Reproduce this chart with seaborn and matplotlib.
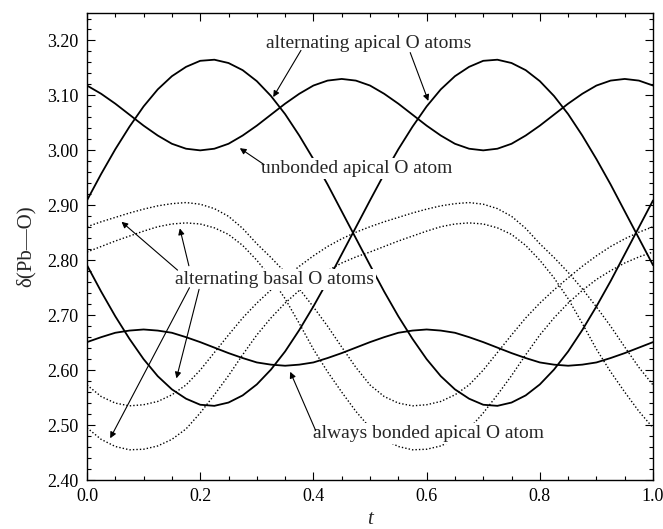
import numpy as np
import pandas as pd
import matplotlib
matplotlib.use("Agg")
import matplotlib.pyplot as plt
import seaborn as sns
from matplotlib.ticker import MultipleLocator, FormatStrFormatter

# ---------------- data ----------------
t = [0.000, 0.025, 0.050, 0.075, 0.100, 0.125, 0.150, 0.175, 0.200, 0.225,
     0.250, 0.275, 0.300, 0.325, 0.350, 0.375, 0.400, 0.425, 0.450, 0.475,
     0.500, 0.525, 0.550, 0.575, 0.600, 0.625, 0.650, 0.675, 0.700, 0.725,
     0.750, 0.775, 0.800, 0.825, 0.850, 0.875, 0.900, 0.925, 0.950, 0.975,
     1.000]

# alternating apical O atoms (solid)
apical_alt_1 = [2.909, 2.957, 3.002, 3.043, 3.080, 3.111, 3.135, 3.152, 3.163, 3.165,
                3.159, 3.146, 3.126, 3.099, 3.066, 3.027, 2.984, 2.938, 2.889, 2.840,
                2.791, 2.743, 2.698, 2.657, 2.620, 2.589, 2.565, 2.548, 2.537, 2.535,
                2.541, 2.554, 2.574, 2.601, 2.634, 2.673, 2.716, 2.762, 2.811, 2.860,
                2.909]
apical_alt_2 = [2.791, 2.743, 2.698, 2.657, 2.620, 2.589, 2.565, 2.548, 2.537, 2.535,
                2.541, 2.554, 2.574, 2.601, 2.634, 2.673, 2.716, 2.762, 2.811, 2.860,
                2.909, 2.957, 3.002, 3.043, 3.080, 3.111, 3.135, 3.152, 3.163, 3.165,
                3.159, 3.146, 3.126, 3.099, 3.066, 3.027, 2.984, 2.938, 2.889, 2.840,
                2.791]
# unbonded apical O atom (solid)
apical_unbonded = [3.118, 3.103, 3.085, 3.065, 3.045, 3.027, 3.012, 3.003, 3.000, 3.003,
                   3.012, 3.027, 3.045, 3.065, 3.085, 3.103, 3.118, 3.127, 3.130, 3.127,
                   3.118, 3.103, 3.085, 3.065, 3.045, 3.027, 3.012, 3.003, 3.000, 3.003,
                   3.012, 3.027, 3.045, 3.065, 3.085, 3.103, 3.118, 3.127, 3.130, 3.127,
                   3.118]
# always bonded apical O atom (solid)
apical_bonded = [2.651, 2.660, 2.668, 2.672, 2.674, 2.672, 2.668, 2.660, 2.651, 2.641,
                 2.631, 2.622, 2.614, 2.610, 2.608, 2.610, 2.614, 2.622, 2.631, 2.641,
                 2.651, 2.660, 2.668, 2.672, 2.674, 2.672, 2.668, 2.660, 2.651, 2.641,
                 2.631, 2.622, 2.614, 2.610, 2.608, 2.610, 2.614, 2.622, 2.631, 2.641,
                 2.651]
# alternating basal O atoms (dotted)
basal_1 = [2.861, 2.870, 2.878, 2.886, 2.893, 2.899, 2.903, 2.905, 2.902, 2.894,
           2.880, 2.858, 2.830, 2.805, 2.778, 2.748, 2.715, 2.680, 2.642, 2.605,
           2.573, 2.552, 2.540, 2.535, 2.537, 2.543, 2.555, 2.573, 2.600, 2.632,
           2.664, 2.695, 2.722, 2.746, 2.768, 2.789, 2.808, 2.825, 2.839, 2.851,
           2.861]
basal_2 = [2.815, 2.825, 2.835, 2.844, 2.853, 2.861, 2.866, 2.868, 2.866, 2.859,
           2.847, 2.827, 2.800, 2.768, 2.730, 2.685, 2.638, 2.597, 2.560, 2.525,
           2.495, 2.474, 2.461, 2.455, 2.456, 2.462, 2.474, 2.493, 2.522, 2.555,
           2.590, 2.628, 2.664, 2.695, 2.722, 2.745, 2.765, 2.781, 2.795, 2.806,
           2.815]
basal_3 = [2.573, 2.552, 2.540, 2.535, 2.537, 2.543, 2.555, 2.573, 2.600, 2.632,
           2.664, 2.695, 2.722, 2.746, 2.768, 2.789, 2.808, 2.825, 2.839, 2.851,
           2.861, 2.870, 2.878, 2.886, 2.893, 2.899, 2.903, 2.905, 2.902, 2.894,
           2.880, 2.858, 2.830, 2.805, 2.778, 2.748, 2.715, 2.680, 2.642, 2.605,
           2.573]
basal_4 = [2.495, 2.474, 2.461, 2.455, 2.456, 2.462, 2.474, 2.493, 2.522, 2.555,
           2.590, 2.628, 2.664, 2.695, 2.722, 2.745, 2.765, 2.781, 2.795, 2.806,
           2.815, 2.825, 2.835, 2.844, 2.853, 2.861, 2.866, 2.868, 2.866, 2.859,
           2.847, 2.827, 2.800, 2.768, 2.730, 2.685, 2.638, 2.597, 2.560, 2.525,
           2.495]

solid_series = [apical_alt_1, apical_alt_2, apical_unbonded, apical_bonded]
dotted_series = [basal_1, basal_2, basal_3, basal_4]

y_ticks = [2.40, 2.50, 2.60, 2.70, 2.80, 2.90, 3.00, 3.10, 3.20]
x_ticks = [0.0, 0.2, 0.4, 0.6, 0.8, 1.0]

# ---------------- styling ----------------
sns.set_style("ticks")
plt.rcParams["font.family"] = ["Liberation Serif", "DejaVu Serif"]

fig = plt.figure(figsize=(6.63, 5.29), dpi=100)
ax = fig.add_axes([0.1312, 0.0926, 0.8538, 0.8828])

for s in dotted_series:
    sns.lineplot(x=t, y=s, ax=ax, color="black", lw=1.0,
                 linestyle=(0, (1, 1.5)), sort=False, estimator=None)
for s in solid_series:
    sns.lineplot(x=t, y=s, ax=ax, color="black", lw=1.3,
                 sort=False, estimator=None)

ax.set_xlim(0.0, 1.0)
ax.set_ylim(2.40, 3.25)
ax.set_xticks(x_ticks)
ax.set_yticks(y_ticks)
ax.xaxis.set_minor_locator(MultipleLocator(0.05))
ax.yaxis.set_minor_locator(MultipleLocator(0.02))
ax.xaxis.set_major_formatter(FormatStrFormatter("%.1f"))
ax.yaxis.set_major_formatter(FormatStrFormatter("%.2f"))
ax.tick_params(which="both", direction="in", top=True, right=True,
               colors="black", labelsize=13, width=0.8)
ax.tick_params(which="major", length=6, pad=6)
ax.tick_params(which="minor", length=3)
for sp in ax.spines.values():
    sp.set_linewidth(1.0)
    sp.set_color("black")

ax.set_xlabel("t", fontsize=15, style="italic", labelpad=3)
ax.set_ylabel("δ(Pb—O)", fontsize=15, labelpad=8)

box = dict(boxstyle="square,pad=0.1", fc="white", ec="none")
arrow = dict(arrowstyle="-|>", lw=0.8, color="black", mutation_scale=9,
             shrinkA=0, shrinkB=0)
fs = 14

ax.text(0.498, 3.195, "alternating apical O atoms", ha="center", va="center",
        fontsize=fs, bbox=box, zorder=5)
ax.annotate("", xy=(0.329, 3.097), xytext=(0.378, 3.182),
            arrowprops=arrow, zorder=6)
ax.annotate("", xy=(0.603, 3.090), xytext=(0.571, 3.178),
            arrowprops=arrow, zorder=6)

ax.text(0.477, 2.967, "unbonded apical O atom", ha="center", va="center",
        fontsize=fs, bbox=box, zorder=5)
ax.annotate("", xy=(0.270, 3.004), xytext=(0.313, 2.974),
            arrowprops=arrow, zorder=6)

ax.text(0.331, 2.765, "alternating basal O atoms", ha="center", va="center",
        fontsize=fs, bbox=box, zorder=5)
ax.annotate("", xy=(0.061, 2.870), xytext=(0.160, 2.782),
            arrowprops=arrow, zorder=6)
ax.annotate("", xy=(0.164, 2.858), xytext=(0.180, 2.790),
            arrowprops=arrow, zorder=6)
ax.annotate("", xy=(0.041, 2.476), xytext=(0.181, 2.750),
            arrowprops=arrow, zorder=6)
ax.annotate("", xy=(0.158, 2.585), xytext=(0.198, 2.747),
            arrowprops=arrow, zorder=6)

ax.text(0.603, 2.485, "always bonded apical O atom", ha="center", va="center",
        fontsize=fs, bbox=box, zorder=5)
ax.annotate("", xy=(0.359, 2.597), xytext=(0.404, 2.490),
            arrowprops=arrow, zorder=6)

fig.savefig("out.png", dpi=100)
